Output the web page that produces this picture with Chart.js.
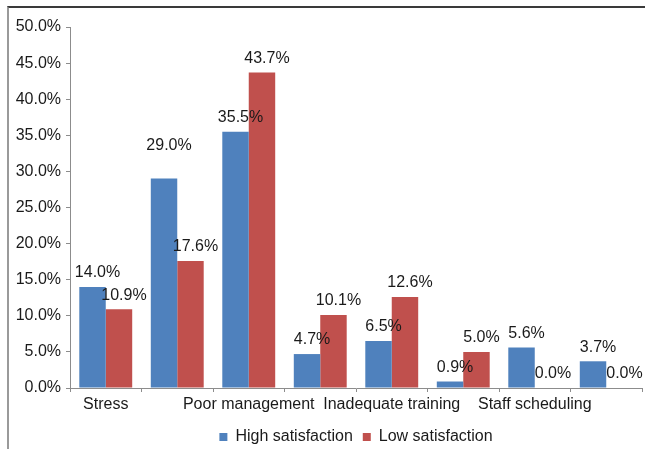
<!DOCTYPE html>
<html>
<head>
<meta charset="utf-8">
<script src="https://cdn.jsdelivr.net/npm/chart.js@4/dist/chart.umd.min.js"></script>
<style>
  html, body { margin: 0; padding: 0; background: #fff; }
  #wrap { position: relative; width: 645px; height: 449px; overflow: hidden; }
  #frame {
    position: absolute; left: 7px; top: 6px; right: -2px; bottom: -2px;
    border-top: 2px solid #3a3a3a; border-left: 2px solid #9a9a9a;
    pointer-events: none;
  }
</style>
</head>
<body>
<div id="wrap">
  <canvas id="chart" width="645" height="449"></canvas>
  <div id="frame"></div>
</div>
<script>
// categories (Excel only printed every other label)
const categories = ["Stress", "", "Poor management", "", "Inadequate training", "", "Staff scheduling", ""];
const highSatisfaction = [14.0, 29.0, 35.5, 4.7, 6.5, 0.9, 5.6, 3.7];
const lowSatisfaction = [10.9, 17.6, 43.7, 10.1, 12.6, 5.0, 0.0, 0.0];
const seriesNames = ["High satisfaction", "Low satisfaction"];

const FONT = "'Liberation Sans', Arial, sans-serif";
const TEXT = "#1a1a1a";

function pct(v) {
  return Number(v).toFixed(1) + "%";
}

// labels above the bars, like Excel "outside end"
const valueLabels = {
  id: "valueLabels",
  afterDatasetsDraw(chart) {
    const ctx = chart.ctx;
    ctx.save();
    ctx.font = "16px " + FONT;
    ctx.fillStyle = TEXT;
    ctx.textAlign = "center";
    ctx.textBaseline = "middle";
    chart.data.datasets.forEach((ds, di) => {
      chart.getDatasetMeta(di).data.forEach((bar, i) => {
        let lift = 14;
        if (di === 0 && i === 1) lift = 33; // this one was moved up in the original
        ctx.fillText(pct(ds.data[i]), bar.x + 5, bar.y - lift);
      });
    });
    ctx.restore();
  },
};

new Chart(document.getElementById("chart"), {
  type: "bar",
  data: {
    labels: categories,
    datasets: [
      { label: seriesNames[0], data: highSatisfaction, backgroundColor: "#4f81bd" },
      { label: seriesNames[1], data: lowSatisfaction, backgroundColor: "#c0504d" },
    ],
  },
  options: {
    responsive: false,
    animation: false,
    layout: { padding: { left: 0, right: 3, top: 27, bottom: -6 } },
    datasets: { bar: { barPercentage: 1, categoryPercentage: 0.74 } },
    plugins: {
      tooltip: { enabled: false },
      legend: {
        position: "bottom",
        fullSize: false,
        labels: {
          color: TEXT,
          font: { family: FONT, size: 16 },
          boxWidth: 8,
          boxHeight: 8,
          padding: 10,
        },
      },
    },
    scales: {
      x: {
        grid: { drawOnChartArea: false, offset: true, tickLength: 4, color: "#8c8c8c" },
        border: { color: "#8c8c8c" },
        ticks: {
          color: TEXT,
          font: { family: FONT, size: 16 },
          autoSkip: false,
          maxRotation: 0,
          padding: 3,
        },
        afterFit(scale) { scale.height = 31; },
      },
      y: {
        min: 0,
        max: 50,
        grid: { drawOnChartArea: false, tickLength: 4, color: "#8c8c8c" },
        border: { color: "#8c8c8c" },
        ticks: {
          stepSize: 5,
          color: TEXT,
          font: { family: FONT, size: 16 },
          padding: 5,
          callback: (v) => pct(v),
        },
        afterFit(scale) { scale.width = 70; },
      },
    },
  },
  plugins: [valueLabels],
});
</script>
</body>
</html>
